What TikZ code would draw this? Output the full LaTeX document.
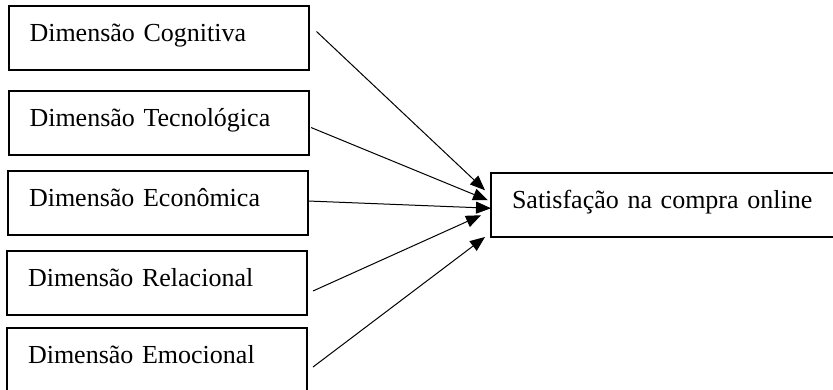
\documentclass[tikz,border=0pt]{standalone}
\usepackage{fontspec}
\setmainfont{Liberation Serif}
\usetikzlibrary{shapes, positioning, arrows.meta}

\begin{document}
\begin{tikzpicture}[->, >={Triangle[length=15pt,width=12pt]}, semithick, x=1pt, y=-1pt, font=\fontsize{26}{30}\selectfont]
\tikzstyle{dim}=[draw, line width=2pt, outer sep=0pt, anchor=north west, minimum width=300pt, minimum height=64pt, inner xsep=21pt, inner ysep=0pt, text width=258pt, align=left, text height=18pt, text depth=11pt]
\useasboundingbox (0,0) rectangle (833,389);
\clip (0,0) rectangle (833,389);

\node[dim]    		(cog)  at (8.5,6)     {Dimensão Cognitiva};
\node[dim]    		(tec)  at (8.5,91)    {Dimensão Tecnológica};
\node[dim]    		(eco)  at (8,171)     {Dimensão Econômica};
\node[dim]    		(rel)  at (7,251)     {Dimensão Relacional};
\node[dim]    		(emo)  at (7,328)     {Dimensão Emocional};
\node[dim, minimum width=420pt, text width=378pt]   (sat)  at (491,173)   {Satisfação na compra online};

\path[line width=1pt]
([xshift=8pt,yshift=6.5pt]cog.east) edge     	([xshift=-6pt,yshift=14.75pt]sat.west)
([xshift=2.5pt,yshift=-4.5pt]tec.east) edge     	([xshift=-3pt,yshift=4.75pt]sat.west)
([yshift=2pt]eco.east) edge     	([yshift=-3.25pt]sat.west)
([xshift=6pt,yshift=-8pt]rel.east) edge     	([xshift=-10pt,yshift=-10.25pt]sat.west)
([xshift=6pt,yshift=-7pt]emo.east) edge     	([xshift=-6pt,yshift=-32pt]sat.west);

\end{tikzpicture}
\end{document}
